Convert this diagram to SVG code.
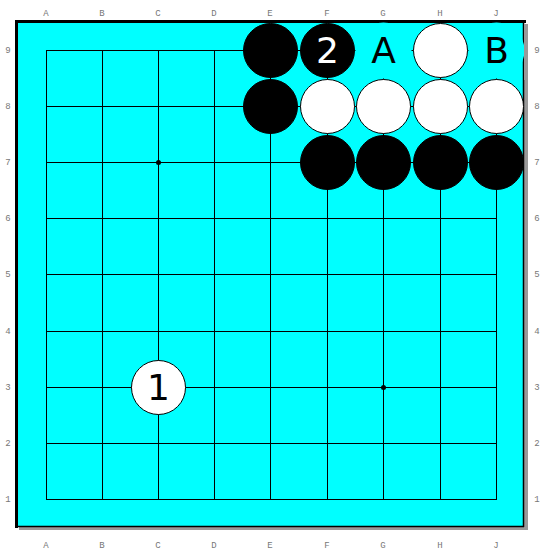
<svg xmlns="http://www.w3.org/2000/svg" width="542" height="552" viewBox="0 0 542 552">
<style>
.coord{font-family:"Liberation Mono","DejaVu Sans Mono",monospace;font-size:9px;fill:#777;text-anchor:middle}
.grid line{stroke:#000;stroke-width:1}
.b{fill:#000;stroke:#000;stroke-width:1}
.w{fill:#fff;stroke:#000;stroke-width:1}
.lbl{font-family:"DejaVu Sans","Noto Sans",sans-serif;font-size:36px;text-anchor:middle;dominant-baseline:central}
.bg{fill:#00ffff;stroke:none}
</style>
<rect width="542" height="552" fill="#fff"/>
<g id="board">
<rect x="19" y="24" width="509" height="506" fill="#999"/>
<rect x="16" y="21" width="508" height="506" fill="#00ffff"/>
<line x1="523.5" y1="22" x2="523.5" y2="527" stroke="#000" stroke-width="1.5"/>
<line x1="16" y1="526.5" x2="524" y2="526.5" stroke="#000" stroke-width="1.5"/>
<line x1="16.5" y1="20" x2="16.5" y2="528" stroke="#000" stroke-width="3"/>
<line x1="15" y1="21.5" x2="526" y2="21.5" stroke="#000" stroke-width="3"/>
</g>
<g id="coords">
<text class="coord" x="46" y="16">A</text><text class="coord" x="102" y="16">B</text><text class="coord" x="158" y="16">C</text><text class="coord" x="214" y="16">D</text><text class="coord" x="270" y="16">E</text><text class="coord" x="327" y="16">F</text><text class="coord" x="383" y="16">G</text><text class="coord" x="440" y="16">H</text><text class="coord" x="496" y="16">J</text>
<text class="coord" x="46" y="548">A</text><text class="coord" x="102" y="548">B</text><text class="coord" x="158" y="548">C</text><text class="coord" x="214" y="548">D</text><text class="coord" x="270" y="548">E</text><text class="coord" x="327" y="548">F</text><text class="coord" x="383" y="548">G</text><text class="coord" x="440" y="548">H</text><text class="coord" x="496" y="548">J</text>
<text class="coord" x="8" y="53">9</text><text class="coord" x="8" y="109">8</text><text class="coord" x="8" y="165">7</text><text class="coord" x="8" y="221">6</text><text class="coord" x="8" y="277">5</text><text class="coord" x="8" y="334">4</text><text class="coord" x="8" y="390">3</text><text class="coord" x="8" y="446">2</text><text class="coord" x="8" y="502">1</text>
<text class="coord" x="537" y="53">9</text><text class="coord" x="537" y="109">8</text><text class="coord" x="537" y="165">7</text><text class="coord" x="537" y="221">6</text><text class="coord" x="537" y="277">5</text><text class="coord" x="537" y="334">4</text><text class="coord" x="537" y="390">3</text><text class="coord" x="537" y="446">2</text><text class="coord" x="537" y="502">1</text>
</g>
<g id="connectors" class="grid">
<line x1="46" y1="50.5" x2="496" y2="50.5"/><line x1="46" y1="106.5" x2="496" y2="106.5"/><line x1="46" y1="162.5" x2="496" y2="162.5"/><line x1="46" y1="218.5" x2="496" y2="218.5"/><line x1="46" y1="274.5" x2="496" y2="274.5"/><line x1="46" y1="331.5" x2="496" y2="331.5"/><line x1="46" y1="387.5" x2="496" y2="387.5"/><line x1="46" y1="443.5" x2="496" y2="443.5"/><line x1="46" y1="499.5" x2="496" y2="499.5"/>
<line x1="46.5" y1="50" x2="46.5" y2="500"/><line x1="102.5" y1="50" x2="102.5" y2="500"/><line x1="158.5" y1="50" x2="158.5" y2="500"/><line x1="214.5" y1="50" x2="214.5" y2="500"/><line x1="270.5" y1="50" x2="270.5" y2="500"/><line x1="327.5" y1="50" x2="327.5" y2="500"/><line x1="383.5" y1="50" x2="383.5" y2="500"/><line x1="440.5" y1="50" x2="440.5" y2="500"/><line x1="496.5" y1="50" x2="496.5" y2="500"/>
<circle cx="158.5" cy="162.5" r="2.5" fill="#000"/>
<circle cx="383.5" cy="387.5" r="2.5" fill="#000"/>
</g>
<g id="E9"><circle class="b" cx="270.5" cy="50.5" r="27"/></g>
<g id="F9"><circle class="b" cx="327.5" cy="50.5" r="27"/><text class="lbl" x="327.5" y="50" fill="#fff">2</text></g>
<g id="G9"><circle class="bg" cx="383.5" cy="50.5" r="28"/><text class="lbl" x="383.5" y="50" fill="#000">A</text></g>
<g id="H9"><circle class="w" cx="440.5" cy="50.5" r="27"/></g>
<g id="J9"><circle class="bg" cx="496.5" cy="50.5" r="28"/><rect x="524" y="24" width="4" height="56" fill="#999"/><text class="lbl" x="496.5" y="50" fill="#000">B</text></g>
<g id="E8"><circle class="b" cx="270.5" cy="106.5" r="27"/></g>
<g id="F8"><circle class="w" cx="327.5" cy="106.5" r="27"/></g>
<g id="G8"><circle class="w" cx="383.5" cy="106.5" r="27"/></g>
<g id="H8"><circle class="w" cx="440.5" cy="106.5" r="27"/></g>
<g id="J8"><circle class="w" cx="496.5" cy="106.5" r="27"/></g>
<g id="F7"><circle class="b" cx="327.5" cy="162.5" r="27"/></g>
<g id="G7"><circle class="b" cx="383.5" cy="162.5" r="27"/></g>
<g id="H7"><circle class="b" cx="440.5" cy="162.5" r="27"/></g>
<g id="J7"><circle class="b" cx="496.5" cy="162.5" r="27"/></g>
<g id="C3"><circle class="w" cx="158.5" cy="387.5" r="27"/><text class="lbl" x="158.5" y="387" fill="#000">1</text></g>
</svg>
